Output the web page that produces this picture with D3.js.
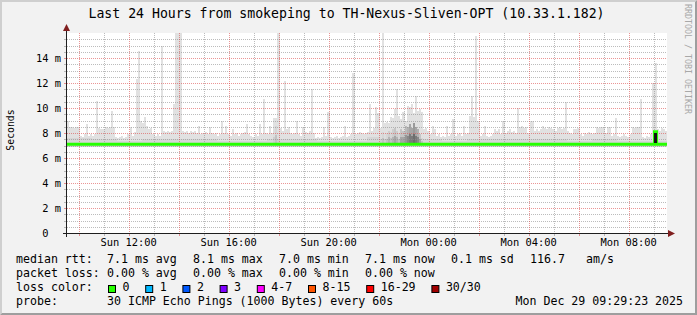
<!DOCTYPE html>
<html>
<head>
<meta charset="utf-8">
<title>Smokeping - TH-Nexus-Sliven-OPT</title>
<script src="https://d3js.org/d3.v7.min.js"></script>
<style>
  body { margin: 0; background: #f2f2f2; }
  svg { display: block; }
  text { font-family: "DejaVu Sans Mono", monospace; fill: #000; white-space: pre; }
  .grid line { shape-rendering: crispEdges; }
</style>
</head>
<body>
<div id="chart"></div>
<script>
  // time window: last 24 hours, one smoke column per 5 minutes
  var startTime = Date.UTC(2025, 11, 28, 9, 32);
  var endTime = Date.UTC(2025, 11, 29, 9, 32);
  var stepMinutes = 5;

  // highest ping of each column (ms), one row per hour
  var pingMax = [
    9.0, 8.5, 8.5, 8.4, 8.5, 8.5, 7.8, 7.7, 7.9, 8.7, 7.8, 7.9,
    7.8, 7.9, 10.6, 8.4, 8.3, 8.3, 8.5, 8.4, 8.5, 9.8, 8.5, 7.7,
    7.6, 7.7, 7.8, 7.6, 7.7, 7.9, 8.5, 7.8, 8.1, 12.3, 14.6, 9.0,
    8.8, 9.3, 8.6, 8.3, 8.4, 7.9, 7.8, 7.9, 7.8, 15.0, 8.2, 8.1,
    8.2, 8.1, 8.2, 10.3, 17.0, 17.0, 17.0, 8.2, 8.1, 8.2, 8.0, 8.2,
    8.1, 8.2, 8.0, 8.6, 7.9, 8.0, 8.1, 7.9, 8.5, 8.0, 7.9, 8.0,
    7.8, 7.9, 9.0, 8.0, 8.6, 7.9, 7.8, 8.3, 7.9, 8.0, 7.8, 7.9,
    8.0, 8.1, 8.7, 7.9, 7.8, 7.7, 7.9, 7.8, 8.7, 7.9, 10.7, 8.0,
    7.9, 8.6, 8.0, 9.2, 9.2, 17.0, 8.4, 8.2, 12.2, 8.3, 8.5, 8.0,
    7.9, 8.0, 9.0, 7.9, 7.8, 8.5, 8.1, 8.0, 8.2, 11.5, 8.0, 7.6,
    7.7, 7.6, 7.7, 8.5, 7.8, 9.7, 7.7, 7.6, 7.7, 7.8, 7.6, 7.7,
    7.8, 8.6, 7.7, 7.8, 7.9, 12.8, 7.9, 8.0, 8.1, 8.0, 7.9, 8.0,
    8.1, 10.3, 8.2, 8.4, 10.1, 9.6, 8.4, 17.0, 8.8, 8.9, 8.8, 9.3,
    9.2, 9.9, 11.5, 9.4, 9.1, 9.7, 9.0, 10.2, 10.1, 10.3, 9.6, 11.0,
    9.8, 9.9, 9.7, 8.3, 8.4, 8.2, 7.9, 8.6, 8.3, 7.8, 7.9, 7.7,
    7.8, 7.7, 8.6, 7.8, 7.9, 9.1, 7.8, 7.9, 8.0, 7.8, 8.6, 7.9,
    8.0, 9.4, 11.0, 9.3, 15.8, 9.0, 7.8, 7.9, 8.6, 7.8, 7.7, 7.8,
    7.9, 8.3, 8.2, 8.3, 7.9, 9.0, 8.0, 8.2, 8.3, 8.1, 8.2, 8.0,
    10.0, 8.5, 8.6, 8.4, 8.5, 8.0, 9.0, 9.0, 8.2, 8.3, 8.2, 8.3,
    8.6, 8.4, 8.3, 8.5, 8.4, 8.3, 8.2, 8.4, 8.5, 8.3, 8.4, 10.5,
    8.2, 8.0, 7.9, 8.3, 8.3, 8.4, 7.9, 7.8, 8.0, 7.9, 8.1, 8.0,
    7.9, 8.0, 8.5, 8.4, 8.5, 8.5, 8.0, 8.5, 8.5, 7.8, 7.9, 9.2,
    7.8, 7.7, 7.8, 7.9, 7.8, 7.7, 7.9, 8.5, 8.4, 8.5, 8.5, 10.7,
    7.7, 7.6, 7.8, 7.7, 7.9, 12.0, 13.6, 8.3, 8.2, 8.4, 8.3, 8.2
  ];

  // lowest ping and upper edge of the thick smoke, per hour (ms)
  var pingMin = [6.9, 6.9, 6.9, 6.9, 6.9, 6.9, 6.9, 6.9, 6.9, 6.9, 6.9, 6.9,
                 6.9, 6.9, 6.9, 6.9, 6.9, 6.9, 6.9, 6.9, 6.9, 6.9, 6.9, 6.9];
  var pingQ3 = [7.6, 7.5, 7.4, 7.5, 7.5, 7.5, 7.4, 7.4, 7.5, 7.5, 7.35, 7.4,
                7.7, 7.9, 7.5, 7.4, 7.5, 7.5, 7.5, 7.5, 7.4, 7.5, 7.4, 7.4];

  // columns where the pings pile up: top of the dense part (ms) and darkness 0..1
  var denseCols  = [99, 100, 101, 150, 151, 152, 153, 154, 155, 156, 157, 158, 159, 160,
                    161, 162, 163, 164, 165, 166, 167, 168, 169, 170, 282];
  var denseTop   = [8.3, 8.6, 8.0, 7.9, 8.1, 7.9, 8.0, 8.2, 8.1, 8.3, 8.4, 8.2, 8.0, 8.3,
                    8.2, 8.6, 8.5, 8.7, 8.4, 8.8, 8.5, 8.3, 7.9, 7.6, 8.1];
  var denseShade = [0.3, 0.35, 0.3, 0.3, 0.35, 0.3, 0.35, 0.4, 0.35, 0.4, 0.45, 0.4, 0.35, 0.45,
                    0.45, 0.5, 0.55, 0.6, 0.6, 0.65, 0.6, 0.55, 0.45, 0.35, 1.0];

  // median rtt as steps: [column, ms]
  var medianSteps = [[0, 7.1], [282, 8.1], [283, 7.1]];

  // legend numbers
  var rttNames = ["avg", "max", "min", "now", "sd"];
  var rttValues = [7.1, 8.1, 7.0, 7.1, 0.1];
  var amPerSec = 116.7;
  var lossNames = ["avg", "max", "min", "now"];
  var lossValues = [0, 0, 0, 0];
  var lossLabels = ["0", "1", "2", "3", "4-7", "8-15", "16-29", "30/30"];
  var lossPalette = ["#26ff00", "#00b8ff", "#0059ff", "#7e00ff", "#ff00ff", "#ff5500", "#ff0000", "#a00000"];

  var W = 697, H = 315;
  // plot box (note: "top" is reserved on window)
  var pL = 67, pR = 667, pT = 33, pB = 233;

  var svg = d3.select("#chart").append("svg")
    .attr("width", W)
    .attr("height", H);

  // background with the rrdtool 3d frame
  svg.append("rect").attr("width", W).attr("height", H).attr("fill", "#f2f2f2");
  svg.append("polygon")
    .attr("points", [[0, H], [2, H - 2], [2, 2], [W - 2, 2], [W, 0], [0, 0]].join(" "))
    .attr("fill", "#cfcfcf");
  svg.append("polygon")
    .attr("points", [[2, H - 2], [W - 2, H - 2], [W - 2, 2], [W, 0], [W, H], [0, H]].join(" "))
    .attr("fill", "#9e9e9e");

  var x = d3.scaleUtc().domain([startTime, endTime]).range([pL, pR]);
  var y = d3.scaleLinear().domain([0, 16]).range([pB, pT]);
  var colTime = function(i) { return startTime + i * stepMinutes * 60000; };
  var colX0 = function(i) { return x(colTime(i)); };
  var colW = function(i) { return x(colTime(i + 1)) - x(colTime(i)); };

  svg.append("clipPath").attr("id", "plotclip")
    .append("rect").attr("x", pL).attr("y", pT).attr("width", pR - pL).attr("height", pB - pT);

  svg.append("rect")
    .attr("x", pL).attr("y", pT)
    .attr("width", pR - pL).attr("height", pB - pT)
    .attr("fill", "#ffffff");

  // smoke
  var cols = pingMax.map(function(v, i) {
    var h = Math.floor(i / 12);
    return { i: i, max: v, min: pingMin[h], q3: Math.min(pingQ3[h], v) };
  });

  var smoke = svg.append("g").attr("clip-path", "url(#plotclip)").attr("shape-rendering", "crispEdges");

  smoke.selectAll("rect.outer")
    .data(cols)
    .enter().append("rect")
    .attr("class", "outer")
    .attr("x", function(d) { return colX0(d.i); })
    .attr("width", function(d) { return colW(d.i); })
    .attr("y", function(d) { return y(d.max); })
    .attr("height", function(d) { return y(d.min) - y(d.max); })
    .attr("fill", "#e1e1e1");

  smoke.selectAll("rect.inner")
    .data(cols)
    .enter().append("rect")
    .attr("class", "inner")
    .attr("x", function(d) { return colX0(d.i); })
    .attr("width", function(d) { return colW(d.i); })
    .attr("y", function(d) { return y(d.q3); })
    .attr("height", function(d) { return y(d.min) - y(d.q3); })
    .attr("fill", "#d6d6d6");

  // dense part: lighter outer half, darker core near the median
  var dense = denseCols.map(function(c, k) {
    return { c: c, top: denseTop[k], shade: denseShade[k] };
  });
  smoke.selectAll("rect.dense")
    .data(dense.filter(function(d) { return d.shade < 0.9; }))
    .enter().append("rect")
    .attr("class", "dense")
    .attr("x", function(d) { return colX0(d.c); })
    .attr("width", function(d) { return colW(d.c); })
    .attr("y", function(d) { return y(d.top); })
    .attr("height", function(d) { return y(7.05) - y(d.top); })
    .attr("fill", function(d) { return d3.interpolateGreys(d.shade * 0.75); });
  smoke.selectAll("rect.core")
    .data(dense.filter(function(d) { return d.shade < 0.9; }))
    .enter().append("rect")
    .attr("class", "core")
    .attr("x", function(d) { return colX0(d.c); })
    .attr("width", function(d) { return colW(d.c); })
    .attr("y", function(d) { return y((d.top + 7.1) / 2); })
    .attr("height", function(d) { return y(7.05) - y((d.top + 7.1) / 2); })
    .attr("fill", function(d) { return d3.interpolateGreys(d.shade); });

  // grid
  var grid = svg.append("g").attr("class", "grid");
  var minorCol = "rgba(143,143,143,0.6)", majorCol = "rgba(222,79,79,0.6)";

  var yMinor = d3.range(0.5, 16, 0.5).filter(function(v) { return v % 2 !== 0; });
  var yMajor = d3.range(2, 16, 2);
  var hours = d3.utcHour.range(new Date(startTime), new Date(endTime));
  var xMinor = hours.filter(function(t) { return t.getUTCHours() % 2 === 1; });
  var xMajor = hours.filter(function(t) { return t.getUTCHours() % 2 === 0; });
  var px = function(v) { return Math.round(v) + 0.5; };

  function hLines(vals, col) {
    grid.selectAll(null).data(vals).enter().append("line")
      .attr("x1", pL).attr("x2", pR)
      .attr("y1", function(v) { return px(y(v)); }).attr("y2", function(v) { return px(y(v)); })
      .attr("stroke", col).attr("stroke-dasharray", "1,1");
    grid.selectAll(null).data(vals).enter().append("line")
      .attr("x1", pL - 3).attr("x2", pL)
      .attr("y1", function(v) { return px(y(v)); }).attr("y2", function(v) { return px(y(v)); })
      .attr("stroke", col);
  }
  function vLines(vals, col) {
    grid.selectAll(null).data(vals).enter().append("line")
      .attr("y1", pT).attr("y2", pB)
      .attr("x1", function(t) { return px(x(t)); }).attr("x2", function(t) { return px(x(t)); })
      .attr("stroke", col).attr("stroke-dasharray", "1,1");
    grid.selectAll(null).data(vals).enter().append("line")
      .attr("y1", pB).attr("y2", pB + 3)
      .attr("x1", function(t) { return px(x(t)); }).attr("x2", function(t) { return px(x(t)); })
      .attr("stroke", col);
  }
  hLines(yMinor, minorCol);
  vLines(xMinor, minorCol);
  hLines(yMajor, majorCol);
  vLines(xMajor, majorCol);

  // median line, coloured by loss (always 0 here)
  var medPts = medianSteps.map(function(s) { return [colTime(s[0]), s[1]]; });
  medPts.push([endTime, medianSteps[medianSteps.length - 1][1]]);
  svg.append("path")
    .datum(medPts)
    .attr("clip-path", "url(#plotclip)")
    .attr("fill", "none")
    .attr("stroke", lossPalette[0])
    .attr("stroke-width", 3)
    .attr("d", d3.line()
      .x(function(d) { return x(d[0]); })
      .y(function(d) { return y(d[1]); })
      .curve(d3.curveStepAfter));

  // fully packed columns show as a black bar over the median jump
  svg.append("g").attr("shape-rendering", "crispEdges").selectAll("rect")
    .data(dense.filter(function(d) { return d.shade >= 0.9; }))
    .enter().append("rect")
    .attr("x", function(d) { return colX0(d.c) - 1; })
    .attr("width", function(d) { return colW(d.c) + 1; })
    .attr("y", function(d) { return y(d.top) + 1.5; })
    .attr("height", function(d) { return y(7.1) - y(d.top) - 3; })
    .attr("fill", "#111");

  // axes
  var axisCol = "#1f1f1f", arrowCol = "#801f1f";
  svg.append("line").attr("x1", pL - 4).attr("x2", pR + 3)
    .attr("y1", pB + 0.5).attr("y2", pB + 0.5)
    .attr("stroke", axisCol).attr("shape-rendering", "crispEdges");
  svg.append("line").attr("x1", pL - 0.5).attr("x2", pL - 0.5)
    .attr("y1", pB + 4).attr("y2", pT - 3)
    .attr("stroke", axisCol).attr("shape-rendering", "crispEdges");
  svg.append("polygon")
    .attr("points", [[pR + 1, pB - 3], [pR + 1, pB + 4], [pR + 8, pB + 0.5]].join(" "))
    .attr("fill", arrowCol);
  svg.append("polygon")
    .attr("points", [[pL - 4, pT - 2], [pL + 3, pT - 2], [pL - 0.5, pT - 9]].join(" "))
    .attr("fill", arrowCol);

  // y labels
  svg.append("g").selectAll("text")
    .data(d3.range(0, 16, 2))
    .enter().append("text")
    .attr("x", 61)
    .attr("y", function(v) { return y(v) + 3.5; })
    .attr("text-anchor", "end")
    .style("font-size", "10.4px")
    .text(function(v) { return v === 0 ? "0  " : v + " m"; });

  // x labels
  var fmt = d3.utcFormat("%a %H:%M");
  svg.append("g").selectAll("text")
    .data(d3.utcHour.every(4).range(new Date(startTime), new Date(endTime)))
    .enter().append("text")
    .attr("x", function(t) { return x(t); })
    .attr("y", 246)
    .attr("text-anchor", "middle")
    .style("font-size", "10.4px")
    .text(function(t) { return fmt(t); });

  // title, unit, watermark
  svg.append("text")
    .attr("x", 346.5).attr("y", 18)
    .attr("text-anchor", "middle")
    .style("font-size", "13.2px")
    .text("Last 24 Hours from smokeping to TH-Nexus-Sliven-OPT (10.33.1.182)");

  svg.append("text")
    .attr("transform", "translate(14,130) rotate(-90)")
    .attr("text-anchor", "middle")
    .style("font-size", "9.8px")
    .text("Seconds");

  svg.append("text")
    .attr("transform", "translate(685,4) rotate(90)")
    .style("font-size", "8.3px")
    .style("fill", "#a8a8a8")
    .text("RRDTOOL / TOBI OETIKER");

  // legend
  var leg = svg.append("g").style("font-size", "11.6px");
  var colX = [107, 193, 279, 365, 451];
  function put(str, lx, ly) {
    leg.append("text").attr("x", lx).attr("y", ly).text(str);
  }
  put("median rtt:", 16, 263);
  rttValues.forEach(function(v, k) { put(v.toFixed(1) + " ms " + rttNames[k], colX[k], 263); });
  put(amPerSec.toFixed(1), 530, 263);
  put("am/s", 586, 263);

  put("packet loss:", 16, 277);
  lossValues.forEach(function(v, k) { put(v.toFixed(2) + " % " + lossNames[k], colX[k], 277); });

  put("loss color:", 16, 291);
  var sx = 108;
  lossLabels.forEach(function(lab, k) {
    leg.append("rect")
      .attr("x", sx + 0.5).attr("y", 285.5)
      .attr("width", 7).attr("height", 7)
      .attr("fill", lossPalette[k])
      .attr("stroke", "#000");
    put(lab, sx + 14.5, 291);
    sx = sx + 14.5 + lab.length * 7 + 15.7;
  });

  put("probe:", 16, 305);
  put("30 ICMP Echo Pings (1000 Bytes) every 60s", 107, 305);
  put("Mon Dec 29 09:29:23 2025", 515.5, 305);
</script>
</body>
</html>
